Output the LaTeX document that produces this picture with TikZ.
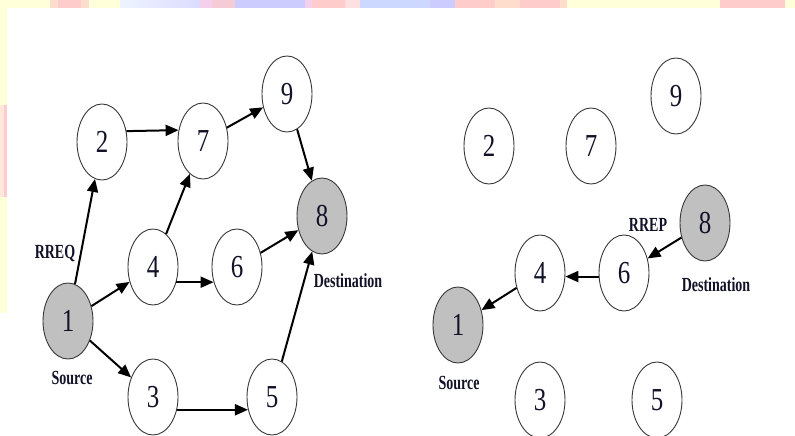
\documentclass[tikz,border=0pt]{standalone}
\usepackage{fontspec}
\setmainfont{Liberation Serif}
\newfontfamily\numfont[FakeStretch=0.78]{Liberation Serif}
\newfontfamily\lblfont[FakeStretch=0.7]{Liberation Serif}
\usetikzlibrary{shapes.geometric,arrows.meta}
\definecolor{txt}{HTML}{121228}
\definecolor{nodegray}{HTML}{C0C0C0}
\definecolor{by}{HTML}{FFFFDA}
\definecolor{bp}{HTML}{FFCCCC}
\definecolor{bpe}{HTML}{FFDDCC}
\definecolor{bl}{HTML}{CCCCFF}
\definecolor{bb}{HTML}{CCD8FF}
\definecolor{bc}{HTML}{EEF4FF}
\definecolor{bpl}{HTML}{F4D0EC}
\begin{document}
\begin{tikzpicture}[x=1pt,y=-1pt,
  nd/.style={ellipse,draw=black!78,line width=0.9pt,minimum width=50pt,minimum height=76pt,inner sep=0pt,fill=white,text=txt,font=\numfont\fontsize{32}{32}\selectfont},
  gnd/.style={nd,fill=nodegray},
  lbl/.style={font=\lblfont\bfseries\fontsize{20}{20}\selectfont,text=txt,inner sep=0pt},
  arr/.style={-{Triangle[length=13pt,width=11pt]},line width=2pt,black}]
\useasboundingbox (0,0) rectangle (795,436);
\fill[white] (0,0) rectangle (795,436);
% left strip
\fill[by] (0,0) rectangle (7,313);
\fill[bpe!70!white] (0,105) rectangle (7,197);
\fill[bp] (4,105) rectangle (7,197);
% top band
\fill[by] (0,0) rectangle (50,8);
\fill[bpe] (50,0) rectangle (58,8);
\fill[bp] (58,0) rectangle (81,8);
\fill[bpe] (81,0) rectangle (89,8);
\fill[by] (89,0) rectangle (120,8);
\shade[left color=bc,right color=bl!70] (120,0) rectangle (200,8);
\fill[bpl] (200,0) rectangle (212,8);
\fill[bp!80!bl] (212,0) rectangle (235,8);
\fill[bl] (235,0) rectangle (305,8);
\fill[bpl] (305,0) rectangle (312,8);
\fill[bp] (312,0) rectangle (345,8);
\fill[bp!60!white] (345,0) rectangle (360,8);
\fill[bb] (360,0) rectangle (430,8);
\fill[bl] (430,0) rectangle (455,8);
\fill[bp] (455,0) rectangle (495,8);
\fill[bpe] (495,0) rectangle (520,8);
\fill[bp] (520,0) rectangle (560,8);
\fill[bpe] (560,0) rectangle (567,8);
\fill[by] (567,0) rectangle (720,8);
\fill[bp] (720,0) rectangle (785,8);
\fill[by] (785,0) rectangle (795,8);

% ---- left graph ----
\node[gnd] (l1) at (68,321) {1};
\node[nd] (l2) at (102,142) {2};
\node[nd] (l3) at (153,397) {3};
\node[nd] (l4) at (153,267) {4};
\node[nd] (l5) at (272,397) {5};
\node[nd] (l6) at (237,267) {6};
\node[nd] (l7) at (203,141) {7};
\node[gnd] (l8) at (322,216) {8};
\node[nd] (l9) at (287,94) {9};
\node[lbl] (lreq) at (55,253) {RREQ};
\node[lbl] (lsrc) at (72,378) {Source};
\node[lbl] (ldst) at (348,281) {Destination};

\draw[arr] (l1) -- (l2);
\draw[arr] (l1) -- (l4);
\draw[arr] (l1) -- (l3);
\draw[arr] (l2.24) -- (l7.156);
\draw[arr] (l4) -- (l7);
\draw[arr] (l4.-33) -- (l6.-147);
\draw[arr] (l7) -- (l9);
\draw[arr] (l9) -- (l8);
\draw[arr] (l6) -- (l8);
\draw[arr] (l3.-28) -- (l5.-152);
\draw[arr] (l5) -- (l8);

% ---- right graph ----
\node[gnd] (r1) at (458,325) {1};
\node[nd] (r2) at (489,146) {2};
\node[nd] (r3) at (540,400) {3};
\node[nd] (r4) at (540,273) {4};
\node[nd] (r5) at (657,400) {5};
\node[nd] (r6) at (624,273) {6};
\node[nd] (r7) at (591,146) {7};
\node[gnd] (r8) at (705,223) {8};
\node[nd] (r9) at (676,96) {9};
\node[lbl] (rrep) at (648,225) {RREP};
\node[lbl] (rsrc) at (459,383) {Source};
\node[lbl] (rdst) at (716,285) {Destination};

\draw[arr] (r8) -- (r6);
\draw[arr] (r6.-172) -- (r4.-8);
\draw[arr] (r4) -- (r1);
\end{tikzpicture}
\end{document}
